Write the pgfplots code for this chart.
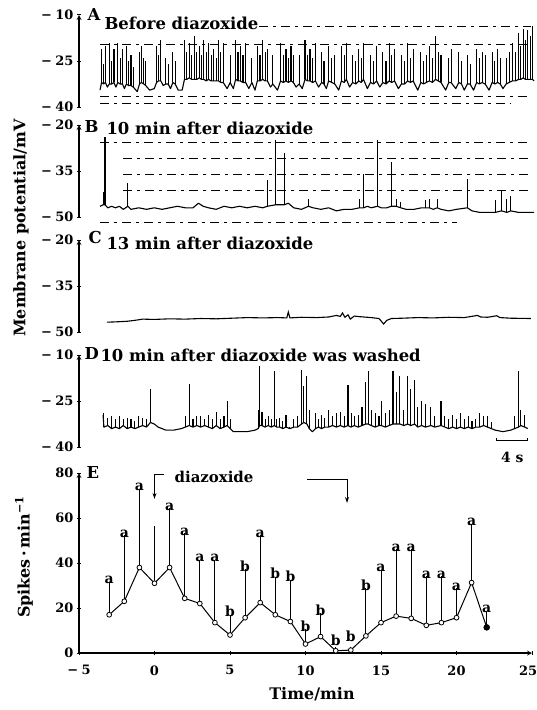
\documentclass[border=0pt]{standalone}
\usepackage{fontspec}
\setmainfont{DejaVu Serif}
\usepackage{pgfplots}
\pgfplotsset{compat=1.18}
\usepackage{pgfplotstable}
\usetikzlibrary{arrows.meta}

% trace tables: t = time (s), v = membrane potential at the foot, p = spike peak (mV)
\pgfplotstableread{
t v p
0.0 -34.5 -34.5
0.2 -32 -21
0.45 -32.5 -26
0.7 -32 -20
0.95 -33.5 -33.5
1.2 -32.5 -19
1.5 -32.5 -25
1.8 -32 -21
2.05 -33.5 -33.5
2.3 -32 -19
2.6 -32.5 -24
2.9 -32.5 -21
3.15 -34 -34
3.4 -32.5 -20
3.7 -33 -25
4.0 -33 -23
4.3 -33.5 -27
4.8 -35 -35
5.1 -32.5 -22
5.35 -32 -20
5.65 -32.5 -24
5.9 -33 -25
6.4 -34.5 -34.5
7.0 -34 -34
7.3 -32 -20
7.55 -31.5 -23
7.85 -31.5 -18
8.15 -33 -33
8.5 -32.5 -24
8.8 -32.5 -26
9.1 -34 -34
9.4 -32 -22
9.7 -32.5 -25
10.1 -34.5 -34.5
10.6 -34.5 -34.5
10.9 -31 -18
11.2 -31 -22
11.5 -30.5 -19
11.85 -31 -23
12.2 -31 -17
12.5 -31 -22
12.8 -30.5 -20
13.1 -31 -23
13.4 -31 -18
13.7 -31.5 -22
14.0 -31 -19
14.35 -31.5 -23
14.7 -31.5 -21
15.0 -31.5 -24
15.3 -31.5 -18
15.6 -32 -22
15.9 -32 -19
16.4 -34 -34
16.8 -32 -23
17.2 -34 -34
17.5 -31 -18
17.8 -31.5 -22
18.1 -31.5 -20
18.45 -32 -23
18.8 -32 -19
19.2 -34 -34
19.6 -32 -24
20.0 -34.5 -34.5
20.3 -31.5 -20
20.65 -31.5 -23
21.0 -31 -18
21.3 -31.5 -22
21.6 -31.5 -21
22.0 -33.5 -33.5
22.3 -32.5 -23
22.9 -34.5 -34.5
23.3 -31.5 -19
23.65 -32 -23
24.0 -31.5 -21
24.3 -32 -24
24.65 -31.5 -20
24.95 -32 -23
25.3 -33.5 -33.5
25.7 -32.5 -23
26.1 -34 -34
26.45 -31 -18
26.8 -31.5 -23
27.1 -31.5 -21
27.45 -32 -24
27.8 -31.5 -19
28.2 -33.5 -33.5
28.6 -32 -22
28.9 -32.5 -25
29.2 -34 -34
29.5 -31.5 -20
29.9 -32 -24
30.3 -32.5 -23
30.8 -34.5 -34.5
31.15 -31.5 -20
31.5 -32 -23
31.8 -31 -19
32.2 -33.5 -33.5
32.6 -32 -23
33.0 -32.5 -25
33.4 -31.5 -21
33.7 -32 -24
34.0 -31 -19
34.5 -34 -34
34.9 -32 -23
35.3 -32.5 -25
35.7 -31.5 -20
36.1 -33.5 -33.5
36.5 -32 -22
36.9 -32.5 -25
37.3 -31.5 -19
37.65 -32 -23
38.0 -31.5 -21
38.5 -34 -34
38.9 -32.5 -23
39.3 -32.5 -25
39.7 -31.5 -19
40.05 -32 -24
40.4 -31.5 -21
41.0 -34.5 -34.5
41.4 -32 -22
41.75 -32.5 -25
42.1 -32 -23
42.5 -31.5 -20
42.9 -32 -24
43.3 -31 -17
43.65 -31.5 -22
44.0 -32 -23
44.6 -34.5 -34.5
45.0 -32 -24
45.3 -32 -21
45.9 -34 -34
46.3 -32 -22
46.65 -32.5 -25
47.0 -34.5 -34.5
47.4 -32.5 -23
47.75 -32.5 -26
48.2 -34.5 -34.5
48.6 -32 -21
48.95 -32.5 -24
49.3 -32 -22
49.7 -32.5 -23
50.2 -34.5 -34.5
50.6 -32 -22
50.95 -32.5 -25
51.3 -32 -21
51.65 -32.5 -24
52.0 -34 -34
52.4 -32.5 -24
52.8 -32 -22
53.2 -31.5 -19
53.6 -31.5 -22
54.0 -31 -16
54.3 -31 -20
54.6 -30.5 -14.5
54.9 -31 -18
55.2 -31 -15
55.5 -31 -17
55.8 -31 -13.5
56.0 -31.5 -31.5
}\tabA

\pgfplotstableread{
t v p
0.0 -46.5 -46.5
0.4 -46 -42
0.65 -46 -24
1.0 -47 -47
1.5 -46.5 -46.5
2.0 -47 -47
2.5 -46.5 -46.5
3.0 -47.5 -47.5
3.6 -46.5 -39
4.0 -47.5 -47.5
5.0 -47 -47
6.0 -47.5 -47.5
7.0 -47 -47
8.0 -47.5 -47.5
9.0 -47 -47
10.0 -46.5 -46.5
11.0 -47 -47
12.0 -47 -47
12.7 -45.5 -45.5
13.3 -46.5 -46.5
14.0 -47 -47
15.0 -47.5 -47.5
16.0 -46.5 -46.5
17.0 -47 -47
18.0 -46.5 -46.5
19.0 -47 -47
20.0 -46.5 -46.5
21.0 -47 -47
21.6 -46.5 -38
22.7 -46 -25
23.8 -46 -29
24.3 -45.5 -45.5
25.0 -47 -47
26.0 -47.5 -47.5
26.9 -46.5 -44
27.5 -47 -47
28.5 -47.5 -47.5
29.5 -47 -47
30.5 -48 -48
31.5 -47.5 -47.5
32.5 -47.5 -47.5
33.5 -47 -44
34.0 -47 -36
34.5 -46.5 -46.5
35.0 -47 -47
35.8 -46.5 -25
36.3 -47 -47
37.0 -47 -47
37.6 -46.5 -32
38.2 -46.5 -44
38.8 -47 -45
39.5 -47.5 -47.5
40.5 -47.5 -47.5
41.5 -47 -47
42.0 -47 -44.5
42.5 -47 -44
43.0 -47.5 -47.5
43.5 -47 -44
44.0 -47.5 -47.5
45.0 -48 -48
46.0 -47.5 -47.5
47.4 -47 -37.5
48.0 -48 -48
49.0 -48.5 -48.5
50.0 -48.5 -48.5
51.0 -48.5 -44.5
51.8 -48 -41.5
52.5 -48.5 -44
53.0 -48 -43
54.0 -48.5 -48.5
55.0 -48.5 -48.5
56.0 -48.5 -48.5
}\tabB

\pgfplotstableread{
t v
0.9 -46.8
2.0 -46.7
3.5 -46.5
4.5 -46.2
5.5 -45.8
7.0 -45.9
9.0 -45.7
11.0 -45.8
13.0 -45.6
15.0 -45.7
17.0 -45.5
19.0 -45.3
21.0 -45.4
23.0 -45.3
24.1 -45.4
24.3 -43.5
24.5 -45.4
26.0 -45.2
28.0 -45.3
29.5 -45.1
30.5 -44.6
31.0 -44.9
31.3 -43.8
31.6 -45.2
32.0 -44.4
32.3 -45.8
32.8 -44.8
33.5 -45.0
35.0 -45.3
36.0 -45.6
36.6 -47.4
37.0 -46.2
37.6 -45.6
39.0 -45.5
41.0 -45.3
43.0 -45.4
45.0 -45.2
47.0 -45.3
48.7 -44.6
49.1 -45.1
50.0 -45.2
51.2 -44.7
51.6 -45.3
53.0 -45.5
55.6 -45.6
}\tabC

\pgfplotstableread{
t v p
0.4 -29.5 -29.5
0.5 -33.5 -29
1.0 -33 -30.5
1.5 -34 -30
2.0 -33.5 -31
2.5 -34 -30
3.0 -33 -31
3.5 -34 -30.5
4.0 -33.5 -31
4.5 -34 -31.5
5.0 -33.5 -30
5.5 -33 -30.5
6.0 -33.5 -31
6.5 -32 -21
7.0 -32.5 -32.5
7.5 -33.5 -33.5
8.5 -34.5 -34.5
9.5 -34.5 -34.5
10.5 -34 -34
11.0 -33.5 -30
11.5 -33 -19.3
12.0 -33.5 -31
12.5 -33 -30
13.0 -33.5 -30
13.5 -33 -31
14.0 -33.5 -29.5
14.5 -34 -31
15.0 -33 -28.5
15.5 -34 -31
16.0 -33.5 -30
16.4 -33 -25
16.8 -34 -31
17.2 -35 -35
18.0 -35 -35
19.0 -35 -35
20.0 -34.5 -34.5
20.4 -34 -28
20.6 -33 -13.6
20.9 -33 -28.5
21.3 -33.5 -31
21.7 -33 -30
22.1 -33.5 -31
22.5 -33 -15.2
22.8 -33.5 -31
23.2 -33.5 -30.5
23.6 -34 -31.5
24.0 -33.5 -29.5
24.5 -34 -33.5
25.0 -33.5 -31
25.5 -33.5 -30
26.0 -32.5 -14.8
26.3 -32 -20
26.7 -32.5 -17
27.0 -34 -28
27.4 -35 -35
27.8 -34 -29
28.2 -33.5 -31
28.6 -34 -29.5
29.0 -33.5 -30.5
29.5 -33.5 -28
30.0 -33 -30
30.5 -33.5 -29
31.0 -33 -28.5
31.5 -33.5 -30
32.0 -33 -19.8
32.4 -33.5 -29
32.8 -33 -30
33.3 -33.5 -29.5
33.8 -33 -27
34.3 -32.5 -18.7
34.6 -32.5 -15.2
35.0 -33 -28
35.5 -33.5 -29
36.0 -33 -30
36.3 -33 -24.9
36.8 -33.5 -29
37.3 -33 -28
37.8 -32.5 -15.2
38.2 -32.5 -22
38.7 -32.5 -17
39.2 -33 -28
39.7 -32.5 -17
40.1 -33 -21
40.6 -32.5 -18
41.0 -33.5 -27
41.5 -33 -25
42.0 -33.5 -26
42.7 -33 -27
43.2 -33.5 -30
44.0 -33 -25
44.5 -33.5 -30
45.0 -34 -31
45.5 -33.5 -29.5
46.0 -34 -31
46.5 -33.5 -29
47.0 -34 -31
47.5 -33.5 -30
48.0 -34 -31.5
48.5 -33.5 -31
49.0 -33.5 -29
49.5 -33 -30
50.0 -33.5 -30
50.5 -34 -32
51.0 -34.5 -34.5
52.0 -35 -35
53.0 -34.5 -34.5
53.5 -34 -30
54.0 -33.5 -15.2
54.3 -33 -28
54.8 -33.5 -29.6
55.2 -34 -34
}\tabD

% panel E: t = time (min), m = spikes per min, e = upper bar
\pgfplotstableread{
t m e
-3 17 13.2
-2 23 27.7
-1 38 33.4
0 31 24
1 38 24.8
2 24.3 27.4
3 22 18
4 13.5 26.5
5 8 7.4
6 15.7 20
7 22.4 28.3
8 17 15.4
9 14 17
10 4 5
11 7.3 8.8
12 1 0
13 1.3 0
14 7.6 19.7
15 13.5 21.9
16 16.4 28.3
17 15.4 29.3
18 12.3 20.4
19 13.5 19.2
20 15.7 11.6
21 31.3 24.6
22 11.4 5.9
}\tabE

\pgfplotstableread{
t c l
-3 30.2 a
-2 50.7 a
-1 71.4 a
1 62.8 a
2 51.7 a
3 40 a
4 40 a
5 15.4 b
6 35.7 b
7 50.7 a
8 32.4 b
9 31 b
10 9 b
11 16.1 b
12 2.5 b
13 4.5 b
14 27.3 b
15 35.4 a
16 44.7 a
17 44.7 a
18 32.7 a
19 32.7 a
20 27.3 a
21 55.9 a
22 17.3 a
}\tabL

\tikzset{grd/.style={line width=0.6bp, dash pattern=on 9bp off 5bp on 3bp off 5bp}}

\begin{document}
\begin{tikzpicture}[x=1bp,y=1bp,font=\fontsize{16.5}{16.5}\selectfont\bfseries]
\useasboundingbox (0,0) rectangle (537,-710);
\pgfplotsset{
  base/.style={scale only axis, clip=false,
    axis line style={-, line width=1.2bp},
    every tick/.style={black, line width=1bp},
    major tick length=4bp, tick align=inside,
    tick label style={font=\fontsize{13}{13}\selectfont\bfseries},
    /pgf/number format/assume math mode=true},
  trace/.style={base, at={(79bp,#1)}, anchor=north west,
    width=457bp, height=92bp, xmin=-2.71, xmax=56.26,
    axis x line=none, axis y line=left, ytick pos=left},
  tr/.style={black, line width=1.1bp, no marks, line join=round,
    error bars/.cd, y dir=plus, y explicit, error mark=none,
    error bar style={line width=1.1bp}},
}

% A
\begin{axis}[trace=-15bp, ymin=-40, ymax=-10, ytick={-10,-25,-40},
  yticklabels={−\;10,−\;25,−\;40}]
\draw[grd] (axis cs:20.5,-13.6) -- (axis cs:55.6,-13.6);
\draw[grd] (axis cs:0,-19.7) -- (axis cs:55.6,-19.7);
\draw[grd] (axis cs:0,-36.4) -- (axis cs:55.6,-36.4);
\draw[grd] (axis cs:0,-38.8) -- (axis cs:53,-38.8);
\addplot[tr] table[x=t, y=v, y error plus expr={\thisrow{p}-\thisrow{v}}] {\tabA};
\end{axis}

% B
\begin{axis}[trace=-125bp, ymin=-50, ymax=-20, ytick={-20,-35,-50},
  yticklabels={−\;20,−\;35,−\;50}]
\draw[grd] (axis cs:0,-25.8) -- (axis cs:55.6,-25.8);
\draw[grd] (axis cs:3,-30.9) -- (axis cs:55.6,-30.9);
\draw[grd] (axis cs:3,-36.1) -- (axis cs:55.6,-36.1);
\draw[grd] (axis cs:3,-41.2) -- (axis cs:55.6,-41.2);
\draw[grd] (axis cs:0,-51.6) -- (axis cs:46,-51.6);
\addplot[tr] table[x=t, y=v, y error plus expr={\thisrow{p}-\thisrow{v}}] {\tabB};
\end{axis}

% C
\begin{axis}[trace=-240bp, ymin=-50, ymax=-20, ytick={-20,-35,-50},
  yticklabels={−\;20,−\;35,−\;50}]
\addplot[black, line width=1.1bp, no marks] table[x=t, y=v] {\tabC};
\end{axis}

% D
\begin{axis}[trace=-355bp, ymin=-40, ymax=-10, ytick={-10,-25,-40},
  yticklabels={−\;10,−\;25,−\;40}]
\addplot[tr] table[x=t, y=v, y error plus expr={\thisrow{p}-\thisrow{v}}] {\tabD};
\draw[line width=1bp] (axis cs:51.2,-37.2) -- (axis cs:51.2,-38) -- (axis cs:55.2,-38) -- (axis cs:55.2,-37.2);
\node[font=\fontsize{14}{14}\selectfont\bfseries] at (axis cs:53.2,-43.5) {4 s};
\end{axis}

% E
\begin{axis}[base, at={(79bp,-653bp)}, anchor=south west,
  width=453bp, height=180bp, xmin=-5, xmax=25, ymin=0, ymax=80,
  axis x line=bottom, axis y line=left,
  xtick={-5,0,...,20}, xticklabels={−\;5,0,5,10,15,20},
  extra x ticks={25}, extra x tick labels={25},
  extra x tick style={xticklabel style={xshift=-4bp}},
  xticklabel style={yshift=-7bp},
  ytick={0,20,...,80}, yticklabels={0,20,40,60,80}]
\addplot[black, line width=0.9bp, no marks, draw=none,
  error bars/.cd, y dir=plus, y explicit, error mark=-,
  error mark options={line width=0.9bp, mark size=3.5bp, black},
  error bar style={line width=1bp}]
  table[x=t, y=m, y error=e] {\tabE};
\addplot[black, line width=1bp, mark=*, mark size=2.4bp,
  mark options={fill=white, line width=0.8bp}] table[x=t, y=m] {\tabE};
\addplot[only marks, mark=*, mark size=3bp, black] coordinates {(22,11.4)};
\addplot[draw=none, no marks, nodes near coords, point meta=explicit symbolic,
  every node near coord/.append style={anchor=south, inner sep=1bp,
    font=\fontsize{14}{14}\selectfont\bfseries}]
  table[x=t, y=c, meta=l] {\tabL};
\draw[line width=1bp, -{Stealth[length=6bp, width=4bp]}]
  (axis cs:0.65,79.5) -- (axis cs:0,79.5) -- (axis cs:0,68.5);
\node[anchor=west, font=\fontsize{15}{15}\selectfont\bfseries] at (axis cs:1.1,78.2) {diazoxide};
\draw[line width=1bp, -{Stealth[length=6bp, width=4bp]}]
  (axis cs:10.1,77.3) -- (axis cs:12.75,77.3) -- (axis cs:12.75,66.7);
\end{axis}

% panel letters and captions
\node[anchor=west] at (84,-15) {A};
\node[anchor=west] at (101,-23) {Before diazoxide};
\node[anchor=west] at (81,-127) {B};
\node[anchor=west] at (103,-128) {10 min after diazoxide};
\node[anchor=west] at (85,-238) {C};
\node[anchor=west] at (103,-243) {13 min after diazoxide};
\node[anchor=west] at (81,-354) {D};
\node[anchor=west] at (97,-355) {10 min after diazoxide was washed};
\node[anchor=west] at (83,-473) {E};

% axis titles
\node[rotate=90, font=\fontsize{16}{16}\selectfont\bfseries] at (21,-228) {Membrane potential/mV};
\node[rotate=90, font=\fontsize{16}{16}\selectfont\bfseries] at (24,-557) {Spikes\,·\,min\textsuperscript{−1}};
\node[font=\fontsize{16}{16}\selectfont\bfseries] at (312,-694) {Time/min};
\end{tikzpicture}
\end{document}
